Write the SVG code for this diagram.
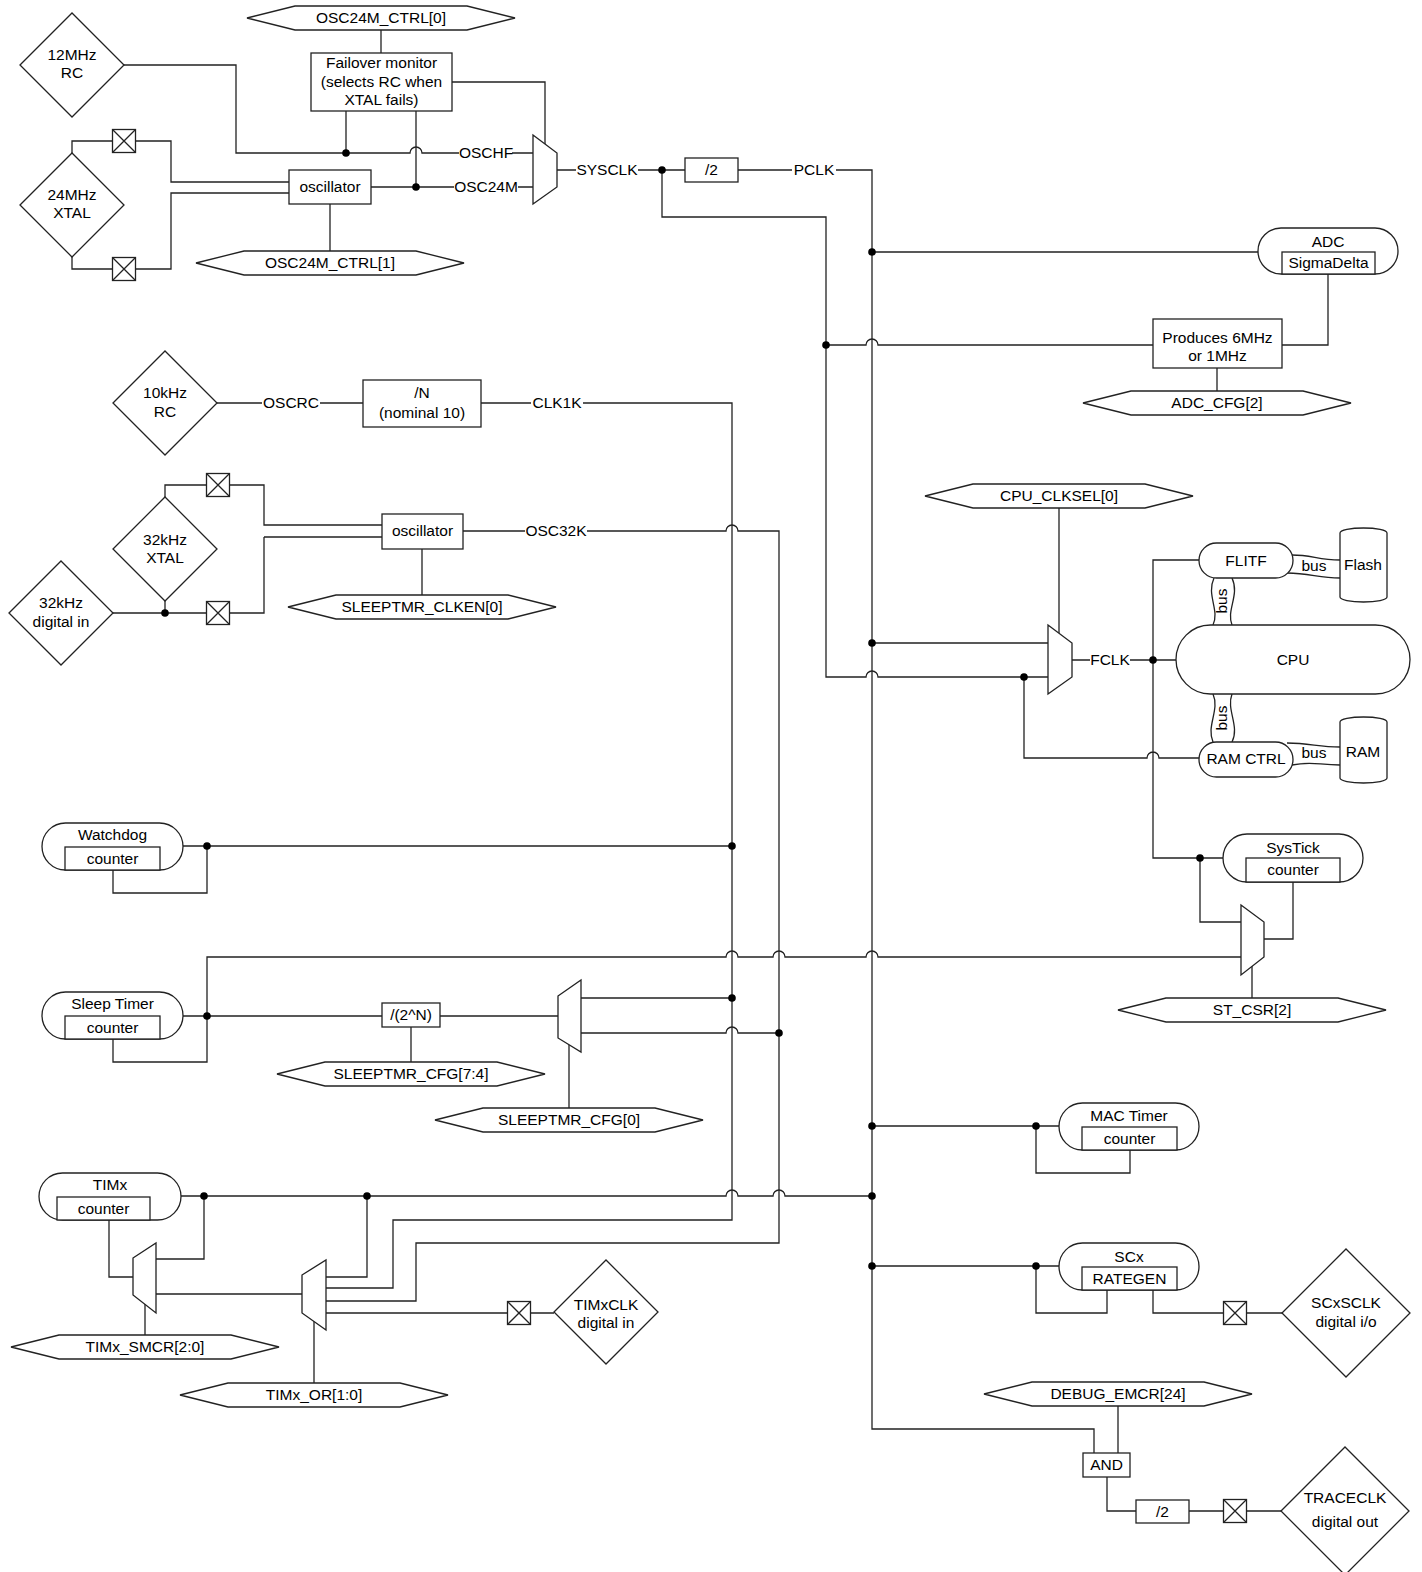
<svg xmlns="http://www.w3.org/2000/svg" width="1422" height="1572" viewBox="0 0 1422 1572">
<style>
.ln{fill:none;stroke:#222;stroke-width:1.3}
.sh{fill:#fff;stroke:#222;stroke-width:1.3}
.t{font-family:"Liberation Sans",Arial,sans-serif;font-size:15.5px;fill:#000;text-anchor:middle}
.d{fill:#000}
</style>
<defs>
<polygon id="hex" class="sh" points="-134,0 -86,-12 86,-12 134,0 86,12 -86,12"/>
<polygon id="dia" class="sh" points="-52,0 0,-52 52,0 0,52"/>
<polygon id="dia2" class="sh" points="-64,0 0,-64 64,0 0,64"/>
<g id="pad"><rect class="sh" x="-11.5" y="-11.5" width="23" height="23"/><path class="ln" d="M-11.5,-11.5L11.5,11.5M11.5,-11.5L-11.5,11.5"/></g>
</defs>
<rect width="1422" height="1572" fill="#fff"/>

<g id="connectors">
<path class="ln" d="M124,65 H236 V153 H410 A6,6 0 0 1 422,153 H459 M512,153 H533"/>
<path class="ln" d="M346,111 V153 M416,111 V187 M452,82 H545 V144 M381,30 V53"/>
<path class="ln" d="M371,187 H454 M518,187 H533 M330,204 V251"/>
<path class="ln" d="M72,153 V141 H112.5 M135.5,141 H171 V182 H289 M72,257 V269 H112.5 M135.5,269 H171 V193 H289"/>
<path class="ln" d="M557,170 H576 M638,170 H685 M738,170 H792 M836,170 H872 V1429 H1094 V1453"/>
<path class="ln" d="M662,170 V217 H826 V677 H866 A6,6 0 0 1 878,677 H1048"/>
<path class="ln" d="M872,252 H1258 M826,345 H866 A6,6 0 0 1 878,345 H1153 M1282,345 H1328 V274 M1217,368 V391"/>
<path class="ln" d="M217,403 H262 M320,403 H363 M481,403 H531 M583,403 H732 V1220 H393 V1288 H326"/>
<path class="ln" d="M165,497 V485 H206.5 M229.5,485 H264 V525 H382 M264,537 H382 M264,537 V613 H229.5 M113,613 H206.5 M165,601 V613"/>
<path class="ln" d="M463,531 H525 M587,531 H726 A6,6 0 0 1 738,531 H779 V1243 H416 V1301 H326 M422,549 V595"/>
<path class="ln" d="M872,643 H1048 M1059,508 V633 M1072,660 H1090 M1130,660 H1176"/>
<path class="ln" d="M1199,560 H1153 V858 H1223 M1024,677 V758 H1147 A6,6 0 0 1 1159,758 H1199"/>
<path class="ln" d="M1200,858 V922 H1241 M1264,939 H1293 V882 M1252,966 V998"/>
<path class="ln" d="M1292,555 C1312,555 1318,560 1340,560 M1287,573 C1310,573 1318,578 1340,578"/>
<path class="ln" d="M1287,743 C1310,743 1318,747 1340,747 M1292,765 C1312,761 1318,765 1340,765"/>
<path class="ln" d="M1214,578 C1206,595 1220,610 1213,625 M1232,578 C1240,595 1226,610 1232,625"/>
<path class="ln" d="M1213,694 C1220,710 1206,726 1213,742 M1232,694 C1226,710 1240,726 1232,742"/>
<path class="ln" d="M183,846 H732 M207,846 V893 H113 V870"/>
<path class="ln" d="M183,1016 H382 M440,1016 H558 M207,1016 V957 H726 A6,6 0 0 1 738,957 H773 A6,6 0 0 1 785,957 H866 A6,6 0 0 1 878,957 H1241"/>
<path class="ln" d="M207,1016 V1062 H113 V1039 M411,1027 V1062 M581,998 H732 M581,1033 H726 A6,6 0 0 1 738,1033 H779 M569,1045 V1108"/>
<path class="ln" d="M181,1196 H726 A6,6 0 0 1 738,1196 H773 A6,6 0 0 1 785,1196 H872"/>
<path class="ln" d="M204,1196 V1259 H156 M133,1277 H109 V1220 M302,1294 H156 M326,1277 H367 V1196 M326,1313 H507.5 M530.5,1313 H554 M145,1304 V1335 M314,1321 V1383"/>
<path class="ln" d="M872,1126 H1059 M1036,1126 V1173 H1130 V1150 M872,1266 H1059 M1036,1266 V1313 H1107 V1290 M1153,1290 V1313 H1223.5 M1246.5,1313 H1282"/>
<path class="ln" d="M1118,1406 V1453 M1107,1477 V1511 H1136 M1189,1511 H1223.5 M1246.5,1511 H1281"/>
<g class="d">
<circle cx="346" cy="153" r="3.8"/><circle cx="416" cy="187" r="3.8"/><circle cx="662" cy="170" r="3.8"/>
<circle cx="872" cy="252" r="3.8"/><circle cx="826" cy="345" r="3.8"/><circle cx="165" cy="613" r="3.8"/>
<circle cx="872" cy="643" r="3.8"/><circle cx="1024" cy="677" r="3.8"/><circle cx="1153" cy="660" r="3.8"/>
<circle cx="1200" cy="858" r="3.8"/><circle cx="207" cy="846" r="3.8"/><circle cx="732" cy="846" r="3.8"/>
<circle cx="207" cy="1016" r="3.8"/><circle cx="732" cy="998" r="3.8"/><circle cx="779" cy="1033" r="3.8"/>
<circle cx="204" cy="1196" r="3.8"/><circle cx="367" cy="1196" r="3.8"/><circle cx="872" cy="1196" r="3.8"/>
<circle cx="872" cy="1126" r="3.8"/><circle cx="1036" cy="1126" r="3.8"/><circle cx="872" cy="1266" r="3.8"/><circle cx="1036" cy="1266" r="3.8"/>
</g>
<g id="connector-labels">
<text class="t" x="486" y="158">OSCHF</text>
<text class="t" x="486" y="192">OSC24M</text>
<text class="t" x="607" y="175">SYSCLK</text>
<text class="t" x="814" y="175">PCLK</text>
<text class="t" x="291" y="408">OSCRC</text>
<text class="t" x="557" y="408">CLK1K</text>
<text class="t" x="556" y="536">OSC32K</text>
<text class="t" x="1110" y="665">FCLK</text>
<text class="t" x="1314" y="571">bus</text>
<text class="t" x="1314" y="758">bus</text>
<text class="t" transform="translate(1222,601) rotate(-90)" y="5">bus</text>
<text class="t" transform="translate(1222,718) rotate(-90)" y="5">bus</text>
</g>
</g>

<g id="n-12mhz-rc"><use href="#dia" x="72" y="65"/><text class="t" x="72" y="60">12MHz</text><text class="t" x="72" y="78">RC</text></g>
<g id="n-24mhz-xtal"><use href="#dia" x="72" y="205"/><text class="t" x="72" y="200">24MHz</text><text class="t" x="72" y="218">XTAL</text></g>
<g id="n-osc24m-ctrl0"><use href="#hex" x="381" y="18"/><text class="t" x="381" y="23">OSC24M_CTRL[0]</text></g>
<g id="n-failover"><rect class="sh" x="311" y="53" width="141" height="58"/><text class="t" x="381.5" y="68">Failover monitor</text><text class="t" x="381.5" y="87">(selects RC when</text><text class="t" x="381.5" y="105">XTAL fails)</text></g>
<g id="n-osc24m"><rect class="sh" x="289" y="170" width="82" height="34"/><text class="t" x="330" y="192">oscillator</text></g>
<g id="n-osc24m-ctrl1"><use href="#hex" x="330" y="263"/><text class="t" x="330" y="268">OSC24M_CTRL[1]</text></g>
<g id="n-pad-24a"><use href="#pad" x="124" y="141"/></g>
<g id="n-pad-24b"><use href="#pad" x="124" y="269"/></g>
<g id="n-mux-sysclk"><polygon class="sh" points="533,135 557,153 557,187 533,204"/></g>
<g id="n-div2-pclk"><rect class="sh" x="685" y="158" width="53" height="24"/><text class="t" x="711.5" y="175">/2</text></g>

<g id="n-adc"><rect class="sh" x="1258" y="228" width="140" height="46" rx="23"/><rect class="sh" x="1282" y="252" width="93" height="22"/><text class="t" x="1328" y="247">ADC</text><text class="t" x="1328.5" y="268">SigmaDelta</text></g>
<g id="n-produces"><rect class="sh" x="1153" y="319" width="129" height="49"/><text class="t" x="1217.5" y="343">Produces 6MHz</text><text class="t" x="1217.5" y="361">or 1MHz</text></g>
<g id="n-adc-cfg"><use href="#hex" x="1217" y="403"/><text class="t" x="1217" y="408">ADC_CFG[2]</text></g>

<g id="n-10khz-rc"><use href="#dia" x="165" y="403"/><text class="t" x="165" y="398">10kHz</text><text class="t" x="165" y="417">RC</text></g>
<g id="n-divn"><rect class="sh" x="363" y="380" width="118" height="47"/><text class="t" x="422" y="398">/N</text><text class="t" x="422" y="418">(nominal 10)</text></g>
<g id="n-32khz-xtal"><use href="#dia" x="165" y="549"/><text class="t" x="165" y="545">32kHz</text><text class="t" x="165" y="563">XTAL</text></g>
<g id="n-32khz-din"><use href="#dia" x="61" y="613"/><text class="t" x="61" y="608">32kHz</text><text class="t" x="61" y="627">digital in</text></g>
<g id="n-pad-32a"><use href="#pad" x="218" y="485"/></g>
<g id="n-pad-32b"><use href="#pad" x="218" y="613"/></g>
<g id="n-osc32k"><rect class="sh" x="382" y="514" width="81" height="35"/><text class="t" x="422.5" y="536">oscillator</text></g>
<g id="n-sleeptmr-clken"><use href="#hex" x="422" y="607"/><text class="t" x="422" y="612">SLEEPTMR_CLKEN[0]</text></g>

<g id="n-cpu-clksel"><use href="#hex" x="1059" y="496"/><text class="t" x="1059" y="501">CPU_CLKSEL[0]</text></g>
<g id="n-mux-fclk"><polygon class="sh" points="1048,625 1072,643 1072,677 1048,694"/></g>
<g id="n-flitf"><rect class="sh" x="1199" y="543" width="94" height="35" rx="17.5"/><text class="t" x="1246" y="566">FLITF</text></g>
<g id="n-cpu"><rect class="sh" x="1176" y="625" width="234" height="69" rx="34.5"/><text class="t" x="1293" y="665">CPU</text></g>
<g id="n-ramctrl"><rect class="sh" x="1199" y="742" width="94" height="35" rx="17.5"/><text class="t" x="1246" y="764">RAM CTRL</text></g>
<g id="n-flash"><path class="sh" d="M1340,533 A23.5,5 0 0 1 1387,533 V597 A23.5,5 0 0 1 1340,597 Z"/><text class="t" x="1363" y="570">Flash</text></g>
<g id="n-ram"><path class="sh" d="M1340,722 A23.5,5 0 0 1 1387,722 V778 A23.5,5 0 0 1 1340,778 Z"/><text class="t" x="1363" y="757">RAM</text></g>

<g id="n-systick"><rect class="sh" x="1223" y="834" width="140" height="48" rx="24"/><rect class="sh" x="1246" y="858" width="94" height="24"/><text class="t" x="1293" y="853">SysTick</text><text class="t" x="1293" y="875">counter</text></g>
<g id="n-mux-systick"><polygon class="sh" points="1241,905 1264,922 1264,957 1241,975"/></g>
<g id="n-st-csr"><use href="#hex" x="1252" y="1010"/><text class="t" x="1252" y="1015">ST_CSR[2]</text></g>

<g id="n-watchdog"><rect class="sh" x="42" y="823" width="141" height="47" rx="23.5"/><rect class="sh" x="65" y="847" width="95" height="23"/><text class="t" x="112.5" y="840">Watchdog</text><text class="t" x="112.5" y="864">counter</text></g>
<g id="n-sleeptimer"><rect class="sh" x="42" y="992" width="141" height="47" rx="23.5"/><rect class="sh" x="65" y="1016" width="95" height="23"/><text class="t" x="112.5" y="1009">Sleep Timer</text><text class="t" x="112.5" y="1033">counter</text></g>
<g id="n-div2n"><rect class="sh" x="382" y="1003" width="58" height="24"/><text class="t" x="411" y="1020">/(2^N)</text></g>
<g id="n-sleeptmr-cfg74"><use href="#hex" x="411" y="1074"/><text class="t" x="411" y="1079">SLEEPTMR_CFG[7:4]</text></g>
<g id="n-mux-sleep"><polygon class="sh" points="558,996 581,980 581,1052 558,1038"/></g>
<g id="n-sleeptmr-cfg0"><use href="#hex" x="569" y="1120"/><text class="t" x="569" y="1125">SLEEPTMR_CFG[0]</text></g>

<g id="n-timx"><rect class="sh" x="39" y="1173" width="142" height="47" rx="23.5"/><rect class="sh" x="57" y="1197" width="93" height="23"/><text class="t" x="110" y="1190">TIMx</text><text class="t" x="103.5" y="1214">counter</text></g>
<g id="n-mux-timx1"><polygon class="sh" points="133,1258 156,1243 156,1313 133,1295"/></g>
<g id="n-mux-timx2"><polygon class="sh" points="302,1275 326,1260 326,1330 302,1313"/></g>
<g id="n-timx-smcr"><use href="#hex" x="145" y="1347"/><text class="t" x="145" y="1352">TIMx_SMCR[2:0]</text></g>
<g id="n-timx-or"><use href="#hex" x="314" y="1395"/><text class="t" x="314" y="1400">TIMx_OR[1:0]</text></g>
<g id="n-pad-timx"><use href="#pad" x="519" y="1313"/></g>
<g id="n-timxclk"><use href="#dia" x="606" y="1312"/><text class="t" x="606" y="1310">TIMxCLK</text><text class="t" x="606" y="1328">digital in</text></g>

<g id="n-mactimer"><rect class="sh" x="1059" y="1103" width="140" height="47" rx="23.5"/><rect class="sh" x="1082" y="1127" width="95" height="23"/><text class="t" x="1129" y="1121">MAC Timer</text><text class="t" x="1129.5" y="1144">counter</text></g>
<g id="n-scx"><rect class="sh" x="1059" y="1243" width="140" height="47" rx="23.5"/><rect class="sh" x="1082" y="1267" width="95" height="23"/><text class="t" x="1129" y="1262">SCx</text><text class="t" x="1129.5" y="1284">RATEGEN</text></g>
<g id="n-pad-scx"><use href="#pad" x="1235" y="1313"/></g>
<g id="n-scxsclk"><use href="#dia2" x="1346" y="1313"/><text class="t" x="1346" y="1308">SCxSCLK</text><text class="t" x="1346" y="1327">digital i/o</text></g>

<g id="n-debug-emcr"><use href="#hex" x="1118" y="1394"/><text class="t" x="1118" y="1399">DEBUG_EMCR[24]</text></g>
<g id="n-and"><rect class="sh" x="1083" y="1453" width="47" height="24"/><text class="t" x="1106.5" y="1470">AND</text></g>
<g id="n-div2-trace"><rect class="sh" x="1136" y="1500" width="53" height="23"/><text class="t" x="1162.5" y="1517">/2</text></g>
<g id="n-pad-trace"><use href="#pad" x="1235" y="1511"/></g>
<g id="n-traceclk"><use href="#dia2" x="1345" y="1511"/><text class="t" x="1345" y="1503">TRACECLK</text><text class="t" x="1345" y="1527">digital out</text></g>
</svg>
